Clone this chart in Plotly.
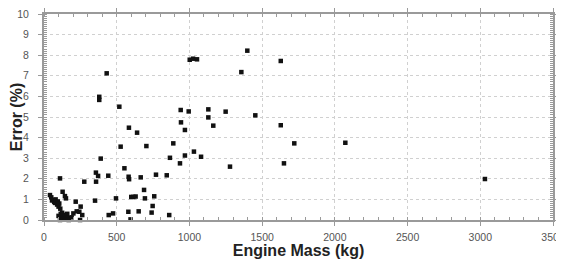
import plotly.graph_objects as go

engine_mass = [41, 50, 55, 62, 70, 76, 80, 90, 95, 100, 105, 110, 112, 115, 118, 120, 125, 128, 130,
               135, 140, 144, 148, 151, 155, 160, 165, 170, 110, 100, 190, 202, 218, 225, 243, 248,
               252, 263, 277,
               351, 357, 358, 372, 390, 380, 380, 431, 442, 445, 475, 495, 518, 527, 553, 582, 585,
               584, 580, 595, 600, 614, 630, 640, 651, 665, 688, 694, 704, 740, 747, 758, 770, 844,
               861, 866, 889, 935, 940, 942, 969, 969, 995, 1002, 1025, 1052, 1031, 1080, 1130,
               1130, 1164, 1249, 1279, 1357, 1398, 1453, 1628, 1628, 1650, 1721, 2072, 3032]
error_pct = [1.21, 1.10, 0.95, 0.97, 0.88, 0.83, 1.00, 0.75, 0.90, 0.65, 0.80, 2.02, 0.55, 0.30, 0.15,
             0.05, 0.35, 1.37, 0.20, 0.10, 0.25, 1.16, 0.05, 1.05, 0.15, 0.30, 0.10, 0.00, 0.00, 0.20,
             0.13, 0.32, 0.89, 0.42, 0.40, 0.00, 0.65, 0.24, 1.86,
             0.94, 2.30, 1.86, 2.14, 2.98, 5.98, 5.83, 7.12, 2.15, 0.24, 0.32, 1.05, 5.50, 3.56, 2.51,
             2.10, 1.98, 4.48, 0.40, 0.03, 1.12, 1.12, 1.14, 4.24, 0.42, 2.07, 1.46, 1.05, 3.59, 0.36,
             0.68, 1.15, 2.20, 2.17, 0.24, 3.02, 3.72, 2.75, 5.34, 4.74, 4.37, 3.13, 5.27, 7.78, 7.83,
             7.80, 3.32, 3.07, 5.37, 4.98, 4.58, 5.26, 2.59, 7.18, 8.22, 5.08, 7.72, 4.60, 2.75, 3.72,
             3.75, 1.99]

x_ticks = [0, 500, 1000, 1500, 2000, 2500, 3000, 3500]
y_ticks = [0, 1, 2, 3, 4, 5, 6, 7, 8, 9, 10]

fig = go.Figure(go.Scatter(
    x=engine_mass, y=error_pct, mode="markers",
    marker=dict(symbol="square", size=4.5, color="#111111"),
    showlegend=False,
    cliponaxis=False,
))

axis_common = dict(
    showline=True, linecolor="#9a9a9a", linewidth=2, mirror="ticks",
    ticks="outside", ticklen=4, tickcolor="#9a9a9a", tickwidth=1,
    showgrid=True, gridcolor="#d0d0d0", griddash="dot", gridwidth=1,
    zeroline=False, automargin=False, ticklabeloverflow="allow",
    tickfont=dict(family="Liberation Sans, Arial", size=10.5, color="#555555"),
)

fig.update_xaxes(
    range=[0, 3500], tickvals=x_ticks, ticktext=[str(v) for v in x_ticks],
    minor=dict(dtick=100, ticks="inside", ticklen=3, tickcolor="#9a9a9a", showgrid=False),
    title=dict(text="<b>Engine Mass (kg)</b>", standoff=4,
               font=dict(family="Liberation Sans, Arial", size=16, color="#222222")),
    ticklabelstandoff=2,
    **axis_common,
)
fig.update_yaxes(
    range=[0, 10], tickvals=y_ticks, ticktext=[str(v) for v in y_ticks],
    minor=dict(dtick=0.1, ticks="inside", ticklen=3, tickcolor="#9a9a9a", showgrid=False),
    title=dict(text="<b>Error (%)</b>", standoff=4,
               font=dict(family="Liberation Sans, Arial", size=16, color="#222222")),
    ticklabelstandoff=7,
    **axis_common,
)

# page body has an 8px margin; size the figure to fill the 564x259 window
fig.update_layout(
    width=556, height=251,
    margin=dict(l=36, r=11, t=6, b=39),
    paper_bgcolor="white", plot_bgcolor="white",
)

fig.write_html("out.html")
